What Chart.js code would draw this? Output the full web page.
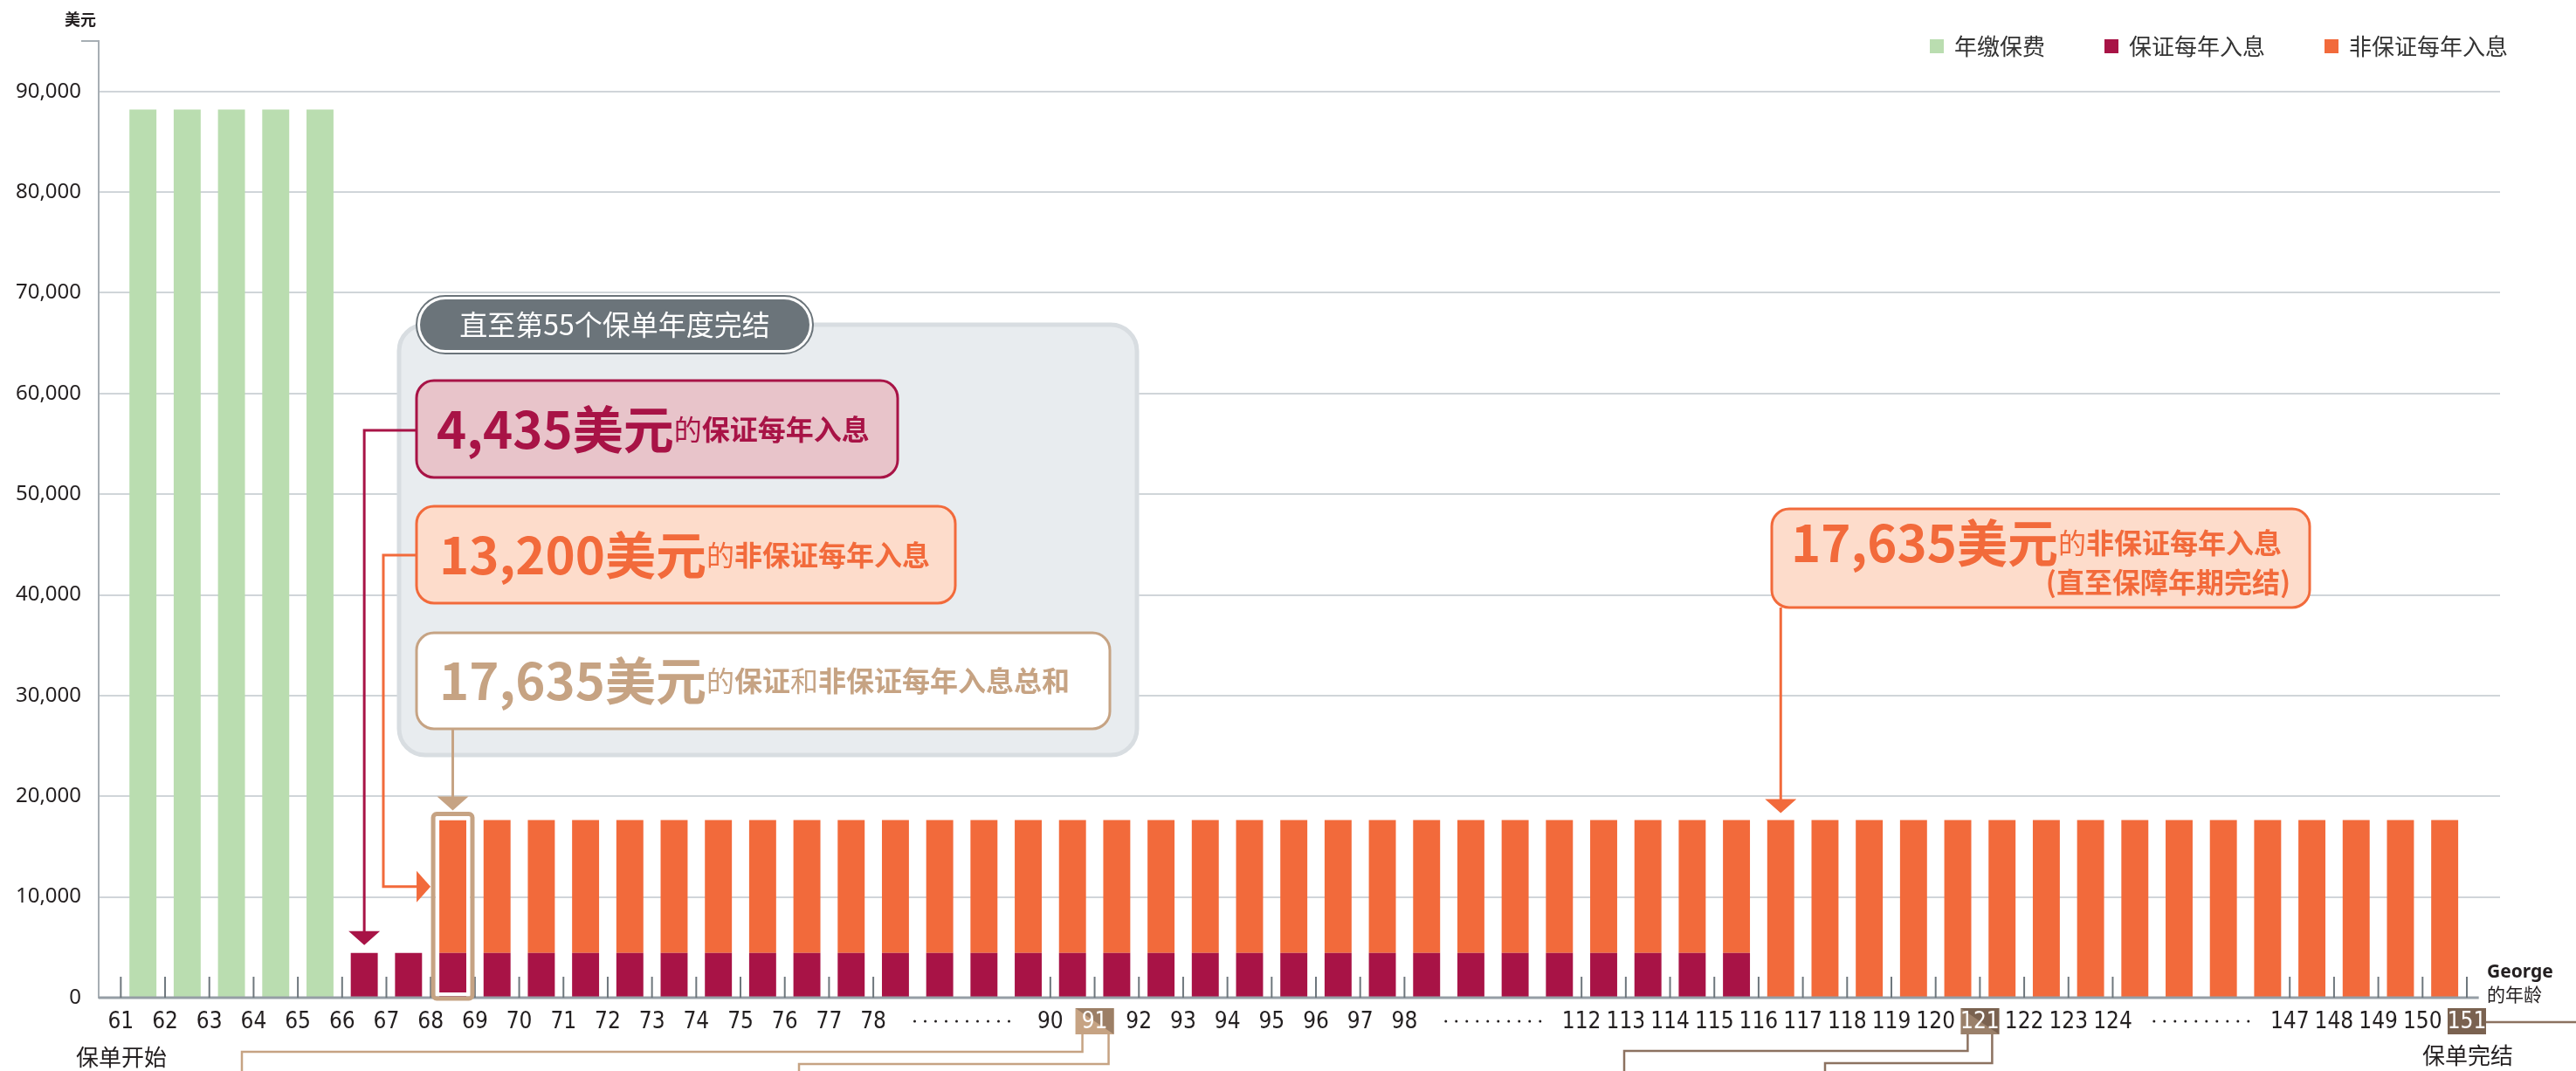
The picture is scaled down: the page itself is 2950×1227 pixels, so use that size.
<!DOCTYPE html>
<html lang="zh-CN">
<head>
<meta charset="UTF-8">
<title>George 的年龄 - 每年入息</title>
<script src="https://cdn.jsdelivr.net/npm/chart.js@4.4.1/dist/chart.umd.min.js"></script>
<style>
    html, body { margin: 0; padding: 0; background: #ffffff; }
    #chartWrap { width: 2950px; height: 1227px; }
</style>
</head>
<body>
<div id="chartWrap"><canvas id="incomeChart" width="2950" height="1227"></canvas></div>
<script>
// Age shown at the start of each policy year ('...' = skipped stretch)
const ageLabels = [
    '61', '62', '63', '64', '65', '66', '67', '68', '69', '70', '71', '72', '73', '74', '75', '76', '77', '78',
    '', '...', '',
    '90', '91', '92', '93', '94', '95', '96', '97', '98',
    '', '...', '',
    '112', '113', '114', '115', '116', '117', '118', '119', '120', '121', '122', '123', '124',
    '', '...', '',
    '147', '148', '149', '150', '151'
];
const highlightAges = ['91', '121', '151'];
const yTicks = [0, 10000, 20000, 30000, 40000, 50000, 60000, 70000, 80000, 90000];

// One value per policy year (bar), in USD
const premium = [
    88200, 88200, 88200, 88200, 88200,
    null, null, null, null, null, null, null, null, null, null,
    null, null, null, null, null, null, null, null, null, null,
    null, null, null, null, null, null, null, null, null, null,
    null, null, null, null, null, null, null, null, null, null,
    null, null, null, null, null, null, null, null
];
const guaranteed = [
    null, null, null, null, null,
    4435, 4435, 4435, 4435, 4435, 4435, 4435, 4435, 4435, 4435,
    4435, 4435, 4435, 4435, 4435, 4435, 4435, 4435, 4435, 4435,
    4435, 4435, 4435, 4435, 4435, 4435, 4435, 4435, 4435, 4435,
    4435, 4435,
    null, null, null, null, null, null, null, null,
    null, null, null, null, null, null, null, null
];
const nonGuaranteed = [
    null, null, null, null, null, null, null,
    13200, 13200, 13200, 13200, 13200, 13200, 13200, 13200, 13200, 13200,
    13200, 13200, 13200, 13200, 13200, 13200, 13200, 13200, 13200, 13200,
    13200, 13200, 13200, 13200, 13200, 13200, 13200, 13200, 13200, 13200,
    17635, 17635, 17635, 17635, 17635, 17635, 17635, 17635,
    17635, 17635, 17635, 17635, 17635, 17635, 17635, 17635
];
const seriesNames = ['年缴保费', '保证每年入息', '非保证每年入息'];

const COLORS = {
    green: '#BADDB0',
    maroon: '#A81346',
    orange: '#F26A3B',
    tan: '#C6A383',
    brown: '#7A6250',
    text: '#231F20'
};
const CJK = '"Noto Sans CJK SC", "Noto Sans", sans-serif';
const NARROW = '"Liberation Sans Narrow", "DejaVu Sans Condensed", "Noto Sans", sans-serif';

// bar i sits between boundary i and i+1
function toPoints(values) {
    return values.map((v, i) => ({ x: i + 0.5, y: v }));
}

// Draw a row of text pieces with different sizes / weights
function drawRuns(ctx, runs, x, y, align) {
    ctx.textBaseline = 'middle';
    ctx.textAlign = 'left';
    let total = 0;
    runs.forEach(r => {
        ctx.font = `${r.weight} ${r.size}px ${CJK}`;
        r.w = ctx.measureText(r.text).width;
        total += r.w;
    });
    let cx = align === 'right' ? x - total : x;
    runs.forEach(r => {
        ctx.font = `${r.weight} ${r.size}px ${CJK}`;
        ctx.fillStyle = r.color;
        ctx.fillText(r.text, cx, y);
        cx += r.w;
    });
}

function roundBox(ctx, x, y, w, h, r, fill, stroke, lw) {
    ctx.beginPath();
    ctx.roundRect(x, y, w, h, r);
    if (fill) { ctx.fillStyle = fill; ctx.fill(); }
    if (stroke) { ctx.strokeStyle = stroke; ctx.lineWidth = lw; ctx.stroke(); }
}

function arrowDown(ctx, x, tipY, color) {
    ctx.fillStyle = color;
    ctx.beginPath();
    ctx.moveTo(x - 18, tipY - 16);
    ctx.lineTo(x + 18, tipY - 16);
    ctx.lineTo(x, tipY);
    ctx.closePath();
    ctx.fill();
}

function arrowRight(ctx, tipX, y, color) {
    ctx.fillStyle = color;
    ctx.beginPath();
    ctx.moveTo(tipX - 16, y - 18);
    ctx.lineTo(tipX - 16, y + 18);
    ctx.lineTo(tipX, y);
    ctx.closePath();
    ctx.fill();
}

function polyline(ctx, pts, color, lw) {
    ctx.strokeStyle = color;
    ctx.lineWidth = lw;
    ctx.beginPath();
    ctx.moveTo(pts[0][0], pts[0][1]);
    for (let i = 1; i < pts.length; i++) ctx.lineTo(pts[i][0], pts[i][1]);
    ctx.stroke();
}

// Axis line, age labels and the notes under the axis
function drawAgeAxis(ctx, chart) {
    const xs = chart.scales.x;
    const area = chart.chartArea;
    const y0 = area.bottom;

    // y axis cap + unit
    polyline(ctx, [[area.left - 20, area.top], [area.left, area.top]], '#A7AEB4', 2);
    ctx.font = `bold 18px ${CJK}`;
    ctx.fillStyle = COLORS.text;
    ctx.textAlign = 'right';
    ctx.textBaseline = 'middle';
    ctx.fillText('美元', area.left - 3, 22);

    // x axis line
    polyline(ctx, [[area.left, y0], [xs.getPixelForValue(53.27), y0]], '#959EA5', 3);

    ageLabels.forEach((label, i) => {
        const x = xs.getPixelForValue(i);
        if (label === '') return;
        if (label === '...') {
            ctx.fillStyle = COLORS.text;
            for (let d = 0; d < 10; d++) {
                ctx.beginPath();
                ctx.arc(x - 54 + d * 12, 1170, 1.5, 0, Math.PI * 2);
                ctx.fill();
            }
            return;
        }
        // tick mark
        polyline(ctx, [[x, y0 - 24], [x, y0]], '#6E777D', 2);

        const hl = highlightAges.indexOf(label);
        if (hl >= 0) {
            const bx = x - 22, by = 1155, bw = 44, bh = 30;
            if (hl === 2) {
                ctx.fillStyle = COLORS.brown;
                ctx.fillRect(bx, by, bw, bh);
            } else {
                const light = hl === 0 ? COLORS.tan : '#9A806A';
                const dark = hl === 0 ? '#9C7F66' : COLORS.brown;
                ctx.fillStyle = light;
                ctx.fillRect(bx, by, bw, bh);
                ctx.fillStyle = dark;
                ctx.beginPath();
                ctx.moveTo(bx, by);
                ctx.lineTo(bx + bw, by);
                ctx.lineTo(bx + bw, by + bh);
                ctx.closePath();
                ctx.fill();
            }
        }
        ctx.font = `26px ${NARROW}`;
        ctx.fillStyle = hl >= 0 ? '#ffffff' : COLORS.text;
        ctx.textAlign = 'center';
        ctx.textBaseline = 'middle';
        ctx.fillText(label, x, 1171);
    });

    // connectors toward the notes below the chart
    const x91 = xs.getPixelForValue(ageLabels.indexOf('91'));
    const x121 = xs.getPixelForValue(ageLabels.indexOf('121'));
    const x151 = xs.getPixelForValue(ageLabels.indexOf('151'));
    polyline(ctx, [[x91 - 14, 1185], [x91 - 14, 1205], [277, 1205], [277, 1230]], COLORS.tan, 2.5);
    polyline(ctx, [[x91 + 16, 1185], [x91 + 16, 1219], [915, 1219], [915, 1230]], COLORS.tan, 2.5);
    polyline(ctx, [[x121 - 14, 1185], [x121 - 14, 1204], [1860, 1204], [1860, 1230]], '#8C7260', 2.5);
    polyline(ctx, [[x121 + 14, 1185], [x121 + 14, 1218], [2090, 1218], [2090, 1230]], '#8C7260', 2.5);
    polyline(ctx, [[x151 + 22, 1171], [2950, 1171]], '#8C7260', 2.5);

    ctx.font = `26px ${CJK}`;
    ctx.fillStyle = COLORS.text;
    ctx.textAlign = 'left';
    ctx.fillText('保单开始', 87, 1211);
    ctx.fillText('保单完结', 2774, 1209);

    ctx.font = 'bold 21px "Noto Sans", sans-serif';
    ctx.fillText('George', 2848, 1114);
    ctx.font = `21px ${CJK}`;
    ctx.fillText('的年龄', 2848, 1139);
}

function drawLegend(ctx, chart) {
    let x = 2210;
    const y = 53;
    chart.data.datasets.forEach(ds => {
        ctx.fillStyle = ds.backgroundColor;
        ctx.fillRect(x, y - 8, 16, 16);
        ctx.font = `26px ${CJK}`;
        ctx.fillStyle = '#333333';
        ctx.textAlign = 'left';
        ctx.textBaseline = 'middle';
        ctx.fillText(ds.label, x + 28, y);
        x += 28 + ctx.measureText(ds.label).width + 68;
    });
}

function drawNotes(ctx, chart) {
    const xs = chart.scales.x, ys = chart.scales.y;

    // grey panel and its title pill
    roundBox(ctx, 457, 372, 845, 493, 30, '#E8ECEF', '#D8DDE1', 5);
    roundBox(ctx, 477, 339, 454, 66, 33, '#ffffff', '#6B747A', 2);
    roundBox(ctx, 481, 343, 446, 58, 29, '#6B747A', null, 0);
    ctx.font = `32px ${CJK}`;
    ctx.fillStyle = '#ffffff';
    ctx.textAlign = 'center';
    ctx.textBaseline = 'middle';
    ctx.fillText('直至第55个保单年度完结', 704, 372);

    // three value boxes
    roundBox(ctx, 477, 436, 551, 111, 20, '#E8C4CA', COLORS.maroon, 3);
    drawRuns(ctx, [
        { text: '4,435美元', size: 58, weight: 'bold', color: COLORS.maroon },
        { text: '的', size: 32, weight: 'normal', color: COLORS.maroon },
        { text: '保证每年入息', size: 32, weight: 'bold', color: COLORS.maroon }
    ], 500, 492);

    roundBox(ctx, 477, 580, 617, 111, 20, '#FDDCCB', COLORS.orange, 3);
    drawRuns(ctx, [
        { text: '13,200美元', size: 58, weight: 'bold', color: COLORS.orange },
        { text: '的', size: 32, weight: 'normal', color: COLORS.orange },
        { text: '非保证每年入息', size: 32, weight: 'bold', color: COLORS.orange }
    ], 503, 636);

    roundBox(ctx, 477, 725, 794, 110, 20, '#ffffff', COLORS.tan, 3);
    drawRuns(ctx, [
        { text: '17,635美元', size: 58, weight: 'bold', color: COLORS.tan },
        { text: '的', size: 32, weight: 'normal', color: COLORS.tan },
        { text: '保证', size: 32, weight: 'bold', color: COLORS.tan },
        { text: '和', size: 32, weight: 'normal', color: COLORS.tan },
        { text: '非保证每年入息总和', size: 32, weight: 'bold', color: COLORS.tan }
    ], 503, 780);

    // right-hand box
    roundBox(ctx, 2029, 583, 616, 113, 20, '#FDDCCB', COLORS.orange, 3);
    drawRuns(ctx, [
        { text: '17,635美元', size: 58, weight: 'bold', color: COLORS.orange },
        { text: '的', size: 32, weight: 'normal', color: COLORS.orange },
        { text: '非保证每年入息', size: 32, weight: 'bold', color: COLORS.orange }
    ], 2051, 622);
    drawRuns(ctx, [
        { text: '(直至保障年期完结)', size: 32, weight: 'bold', color: COLORS.orange }
    ], 2623, 667, 'right');

    // highlight frame round the first full bar
    const bar = chart.getDatasetMeta(2).data[7];
    const left = bar.x - bar.width / 2, right = bar.x + bar.width / 2;
    const top = bar.y;
    const bottom = ys.getPixelForValue(0);
    ctx.strokeStyle = '#ffffff';
    ctx.lineWidth = 4;
    ctx.beginPath();
    ctx.rect(left - 2, top - 2, right - left + 4, bottom - top - 2);
    ctx.stroke();
    roundBox(ctx, left - 7, top - 7, right - left + 14, bottom - top + 8, 4, null, COLORS.tan, 5);

    // maroon pointer to the first guaranteed bar
    const gx = xs.getPixelForValue(5.5);
    const gTip = ys.getPixelForValue(guaranteed[5]) - 9;
    polyline(ctx, [[477, 493], [gx, 493], [gx, gTip - 14]], COLORS.maroon, 3);
    arrowDown(ctx, gx, gTip, COLORS.maroon);

    // orange pointer to the non-guaranteed part
    const midY = ys.getPixelForValue(guaranteed[7] + nonGuaranteed[7] / 2);
    const tipX = left - 10;
    polyline(ctx, [[477, 636], [439, 636], [439, midY], [tipX - 14, midY]], COLORS.orange, 3);
    arrowRight(ctx, tipX, midY, COLORS.orange);

    // tan pointer to the framed bar
    polyline(ctx, [[bar.x, 835], [bar.x, top - 26]], COLORS.tan, 3);
    arrowDown(ctx, bar.x, top - 11, COLORS.tan);

    // right pointer to the first bar without guaranteed income
    const rx = xs.getPixelForValue(37.5);
    const rTip = ys.getPixelForValue(nonGuaranteed[37]) - 8;
    polyline(ctx, [[rx, 696], [rx, rTip - 14]], COLORS.orange, 3);
    arrowDown(ctx, rx, rTip, COLORS.orange);
}

const decorPlugin = {
    id: 'decor',
    afterDraw(chart) {
        const ctx = chart.ctx;
        ctx.save();
        drawAgeAxis(ctx, chart);
        drawLegend(ctx, chart);
        drawNotes(ctx, chart);
        ctx.restore();
    }
};

const ctx = document.getElementById('incomeChart');
new Chart(ctx, {
    type: 'bar',
    data: {
        datasets: [
            { label: seriesNames[0], data: toPoints(premium), backgroundColor: COLORS.green },
            { label: seriesNames[1], data: toPoints(guaranteed), backgroundColor: COLORS.maroon },
            { label: seriesNames[2], data: toPoints(nonGuaranteed), backgroundColor: COLORS.orange }
        ]
    },
    options: {
        responsive: false,
        animation: false,
        devicePixelRatio: 1,
        layout: { padding: { top: 47, right: 87, left: 0, bottom: 0 } },
        datasets: { bar: { barPercentage: 0.61, categoryPercentage: 1 } },
        plugins: {
            legend: { display: false },
            tooltip: { enabled: false }
        },
        scales: {
            x: {
                type: 'linear',
                min: -0.5,
                max: 53.75,
                offset: false,
                stacked: true,
                ticks: { display: false },
                grid: { display: false, offset: false },
                border: { display: false },
                afterFit: scale => { scale.height = 84; }
            },
            y: {
                min: 0,
                max: 95000,
                stacked: true,
                afterBuildTicks: axis => {
                    axis.ticks = yTicks.map(v => ({ value: v }));
                },
                ticks: {
                    padding: 20,
                    color: COLORS.text,
                    font: { family: '"Noto Sans", sans-serif', size: 24 },
                    callback: v => v.toLocaleString('en-US')
                },
                grid: {
                    color: c => (c.tick && c.tick.value === 0) ? 'rgba(0,0,0,0)' : '#D0D5D9',
                    lineWidth: 2,
                    drawTicks: false
                },
                border: { color: '#A7AEB4', width: 2 },
                afterFit: scale => { scale.width = 113; }
            }
        }
    },
    plugins: [decorPlugin]
});
</script>
</body>
</html>
